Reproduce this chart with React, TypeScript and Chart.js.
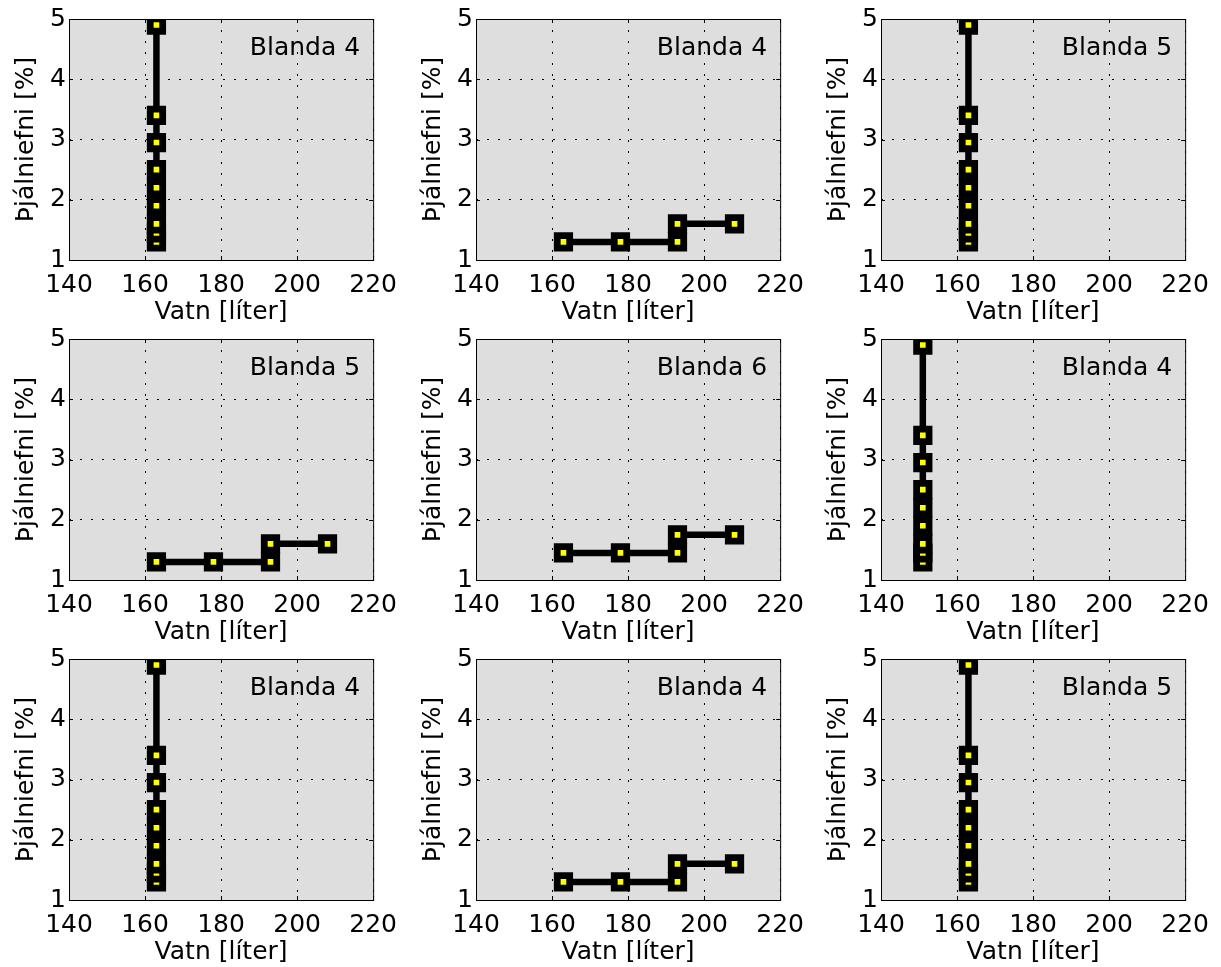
import React, { useEffect, useRef } from "react";
import { Chart, registerables } from "chart.js";

Chart.register(...registerables);

// ---------- data ----------
const panelTitles = [
  "Blanda 4", "Blanda 4", "Blanda 5",
  "Blanda 5", "Blanda 6", "Blanda 4",
  "Blanda 4", "Blanda 4", "Blanda 5",
];
const vatnLodrett = [163, 163, 163, 163, 163, 163, 163, 163, 163];
const vatnLodrettB = [151, 151, 151, 151, 151, 151, 151, 151, 151];
const thjalLodrett = [1.3, 1.45, 1.6, 1.9, 2.2, 2.5, 2.95, 3.4, 4.9];
const vatnThrep = [163, 178, 193, 193, 208];
const thjalThrepA = [1.3, 1.3, 1.3, 1.6, 1.6];
const thjalThrepB = [1.45, 1.45, 1.45, 1.75, 1.75];
const xTickValues = [140, 160, 180, 200, 220];
const yTickValues = [1, 2, 3, 4, 5];
const xLabel = "Vatn [líter]";
const yLabel = "Þjálniefni [%]";

const panelSeries: [number[], number[]][] = [
  [vatnLodrett, thjalLodrett],
  [vatnThrep, thjalThrepA],
  [vatnLodrett, thjalLodrett],
  [vatnThrep, thjalThrepA],
  [vatnThrep, thjalThrepB],
  [vatnLodrettB, thjalLodrett],
  [vatnLodrett, thjalLodrett],
  [vatnThrep, thjalThrepA],
  [vatnLodrett, thjalLodrett],
];

// ---------- layout ----------
const FONT = "'DejaVu Sans', 'Liberation Sans', sans-serif";
const plotLefts = [69, 476, 881];
const plotTops = [19, 339, 659];
const Y_AXIS_W = 69;
const PLOT_W = 307;
const PLOT_H = 241;
const CANVAS_W = 407;
const CANVAS_H = 335;
const TOP_PAD = 19;

const matlabAxes = {
  id: "matlabAxes",
  beforeDraw(chart: any) {
    const { ctx, chartArea: a } = chart;
    ctx.save();
    ctx.fillStyle = "#dedede";
    ctx.fillRect(a.left, a.top, a.right - a.left, a.bottom - a.top);
    ctx.restore();
  },
  afterDraw(chart: any, _args: any, opts: any) {
    const { ctx, chartArea: a, scales } = chart;
    const tl = 4;
    ctx.save();
    ctx.strokeStyle = "#000";
    ctx.lineWidth = 1;
    ctx.setLineDash([]);
    ctx.beginPath();
    scales.x.ticks.forEach((t: any) => {
      const px = Math.round(scales.x.getPixelForValue(t.value)) + 0.5;
      ctx.moveTo(px, a.bottom);
      ctx.lineTo(px, a.bottom - tl);
      ctx.moveTo(px, a.top);
      ctx.lineTo(px, a.top + tl);
    });
    scales.y.ticks.forEach((t: any) => {
      const py = Math.round(scales.y.getPixelForValue(t.value)) + 0.5;
      ctx.moveTo(a.left, py);
      ctx.lineTo(a.left + tl, py);
      ctx.moveTo(a.right, py);
      ctx.lineTo(a.right - tl, py);
    });
    ctx.stroke();
    ctx.strokeRect(a.left + 0.5, a.top + 0.5, a.right - a.left, a.bottom - a.top);
    ctx.fillStyle = "#000";
    ctx.font = `25px ${FONT}`;
    ctx.textAlign = "right";
    ctx.textBaseline = "alphabetic";
    ctx.fillText(opts.title, a.right - 13, a.top + 36);
    ctx.restore();
  },
};

function Panel({ index }: { index: number }) {
  const ref = useRef<HTMLCanvasElement | null>(null);
  useEffect(() => {
    const [xs, ys] = panelSeries[index];
    const data = xs.map((x, i) => ({ x, y: ys[i] }));
    const chart = new Chart(ref.current as HTMLCanvasElement, {
      type: "scatter",
      data: {
        datasets: [
          {
            data,
            showLine: true,
            borderColor: "#000",
            borderWidth: 6.5,
            pointStyle: "rect",
            pointRadius: 8.8,
            pointBorderWidth: 6.8,
            pointBackgroundColor: "#ffff00",
            pointBorderColor: "#000",
            pointHoverRadius: 8.8,
          } as any,
        ],
      },
      options: {
        responsive: false,
        maintainAspectRatio: false,
        animation: false,
        events: [],
        layout: { padding: { left: 0, top: TOP_PAD, right: CANVAS_W - Y_AXIS_W - PLOT_W, bottom: 0 } },
        plugins: {
          legend: { display: false },
          tooltip: { enabled: false },
          matlabAxes: { title: panelTitles[index] },
        } as any,
        scales: {
          x: {
            type: "linear",
            min: xTickValues[0],
            max: xTickValues[xTickValues.length - 1],
            afterBuildTicks: (s: any) => {
              s.ticks = xTickValues.map((v) => ({ value: v }));
            },
            afterFit: (s: any) => {
              s.height = CANVAS_H - TOP_PAD - PLOT_H;
            },
            grid: { color: "#000", lineWidth: 1, drawTicks: false },
            border: { display: false, dash: [2, 9] },
            ticks: {
              color: "#000",
              font: { family: FONT, size: 25 },
              padding: 10,
              autoSkip: false,
              maxRotation: 0,
            },
            title: {
              display: true,
              text: xLabel,
              color: "#000",
              font: { family: FONT, size: 25 },
              padding: { top: 0, bottom: 8 },
            },
          },
          y: {
            type: "linear",
            min: yTickValues[0],
            max: yTickValues[yTickValues.length - 1],
            afterBuildTicks: (s: any) => {
              s.ticks = yTickValues.map((v) => ({ value: v }));
            },
            afterFit: (s: any) => {
              s.width = Y_AXIS_W;
            },
            grid: { color: "#000", lineWidth: 1, drawTicks: false },
            border: { display: false, dash: [2, 9] },
            ticks: {
              color: "#000",
              font: { family: FONT, size: 25 },
              padding: 3,
              autoSkip: false,
            },
            title: {
              display: true,
              text: yLabel,
              color: "#000",
              font: { family: FONT, size: 25 },
              padding: { top: 11, bottom: 0 },
            },
          },
        } as any,
      },
      plugins: [matlabAxes as any],
    });
    return () => chart.destroy();
  }, [index]);

  const col = index % 3;
  const row = Math.floor(index / 3);
  return (
    <canvas
      ref={ref}
      width={CANVAS_W}
      height={CANVAS_H}
      style={{
        position: "absolute",
        left: plotLefts[col] - Y_AXIS_W,
        top: plotTops[row] - TOP_PAD,
        width: CANVAS_W,
        height: CANVAS_H,
      }}
    />
  );
}

export default function App() {
  return (
    <div
      style={{
        position: "absolute",
        left: 0,
        top: 0,
        width: 1221,
        height: 967,
        overflow: "hidden",
        background: "#fff",
      }}
    >
      {panelTitles.map((_, i) => (
        <Panel key={i} index={i} />
      ))}
    </div>
  );
}
